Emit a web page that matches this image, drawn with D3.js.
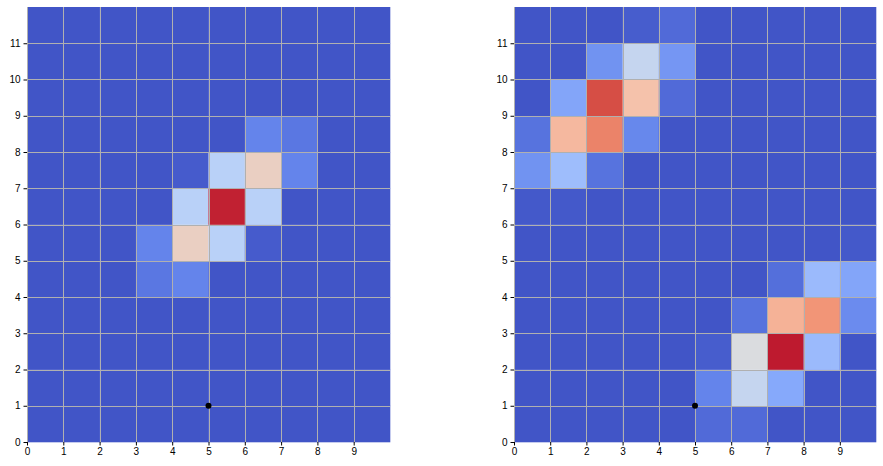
<!DOCTYPE html>
<html>
<head>
<meta charset="utf-8">
<script src="https://cdn.jsdelivr.net/npm/d3@7"></script>
<style>
  body { margin: 0; background: #fff; }
  svg { display: block; font-family: "DejaVu Sans", sans-serif; }
  .tick text { font-size: 10px; fill: #000; }
  .domain { display: none; }
</style>
</head>
<body>
<div id="chart"></div>
<script>
const width = 883;
const height = 466;

const nCols = 10;
const nRows = 12;
const xTicks = [0, 1, 2, 3, 4, 5, 6, 7, 8, 9];
const yTicks = [0, 1, 2, 3, 4, 5, 6, 7, 8, 9, 10, 11];
const baseValue = 0.02;
const marker = [5, 1];

// non-background cells: [col, row, value]
const leftCells = [
  [5, 6, 0.96],
  [4, 5, 0.57], [6, 7, 0.57],
  [4, 6, 0.38], [5, 7, 0.38], [6, 6, 0.38], [5, 5, 0.38],
  [3, 5, 0.13], [4, 4, 0.13], [6, 8, 0.13], [7, 7, 0.13],
  [3, 4, 0.10], [7, 8, 0.10],
  [4, 7, 0.035], [6, 5, 0.035]
];

const rightCells = [
  [3, 11, 0.04], [4, 11, 0.07],
  [2, 10, 0.17], [3, 10, 0.42], [4, 10, 0.18],
  [1, 9, 0.22], [2, 9, 0.90], [3, 9, 0.63], [4, 9, 0.07],
  [0, 8, 0.09], [1, 8, 0.66], [2, 8, 0.80], [3, 8, 0.14],
  [0, 7, 0.17], [1, 7, 0.30], [2, 7, 0.09],
  [0, 6, 0.03], [1, 6, 0.03],
  [9, 5, 0.03],
  [7, 4, 0.08], [8, 4, 0.29], [9, 4, 0.22],
  [6, 3, 0.09], [7, 3, 0.68], [8, 3, 0.76], [9, 3, 0.15],
  [5, 2, 0.04], [6, 2, 0.49], [7, 2, 0.97], [8, 2, 0.29],
  [5, 1, 0.13], [6, 1, 0.42], [7, 1, 0.23],
  [5, 0, 0.07], [6, 0, 0.07]
];

// matplotlib coolwarm
const coolwarmStops = ["#3b4cc0", "#6282ea", "#8db0fe", "#b8d0f9", "#dddddd",
  "#f5c4ad", "#f49a7b", "#de604d", "#b40426"];
const color = d3.scaleLinear()
  .domain(d3.range(coolwarmStops.length).map(i => i / (coolwarmStops.length - 1)))
  .range(coolwarmStops)
  .interpolate(d3.interpolateRgb);

const panels = [
  { cells: leftCells, left: 27, right: 390 },
  { cells: rightCells, left: 514, right: 876 }
];
const plotTop = 7;
const plotBottom = 442;

const svg = d3.select("#chart")
  .append("svg")
  .attr("width", width)
  .attr("height", height);

function fullGrid(cells) {
  const lookup = new Map(cells.map(d => [d[0] + "," + d[1], d[2]]));
  const grid = [];
  for (let r = 0; r < nRows; r++) {
    for (let c = 0; c < nCols; c++) {
      const v = lookup.get(c + "," + r);
      grid.push({ col: c, row: r, value: v === undefined ? baseValue : v });
    }
  }
  return grid;
}

panels.forEach(p => {
  const x = d3.scaleLinear().domain([0, nCols]).range([p.left, p.right]);
  const y = d3.scaleLinear().domain([0, nRows]).range([plotBottom, plotTop]);
  const g = svg.append("g");

  g.selectAll("rect")
    .data(fullGrid(p.cells))
    .join("rect")
    .attr("x", d => x(d.col))
    .attr("y", d => y(d.row + 1))
    .attr("width", d => x(d.col + 1) - x(d.col) + 0.3)
    .attr("height", d => y(d.row) - y(d.row + 1) + 0.3)
    .attr("fill", d => color(d.value));

  g.selectAll(".vgrid")
    .data(xTicks)
    .join("line")
    .attr("class", "vgrid")
    .attr("x1", d => Math.round(x(d)) + 0.5)
    .attr("x2", d => Math.round(x(d)) + 0.5)
    .attr("y1", plotTop)
    .attr("y2", plotBottom)
    .attr("stroke", "#b0b0b0")
    .attr("stroke-width", 1);

  g.selectAll(".hgrid")
    .data(yTicks.slice(1))
    .join("line")
    .attr("class", "hgrid")
    .attr("x1", p.left)
    .attr("x2", p.right)
    .attr("y1", d => Math.round(y(d)) + 0.5)
    .attr("y2", d => Math.round(y(d)) + 0.5)
    .attr("stroke", "#b0b0b0")
    .attr("stroke-width", 1);

  g.append("circle")
    .attr("cx", x(marker[0]))
    .attr("cy", y(marker[1]))
    .attr("r", 3)
    .attr("fill", "#000");

  g.append("g")
    .attr("transform", `translate(0, ${plotBottom})`)
    .call(d3.axisBottom(x).tickValues(xTicks).tickSize(3.5).tickPadding(2).tickFormat(d3.format("d")));

  g.append("g")
    .attr("transform", `translate(${p.left}, 0)`)
    .call(d3.axisLeft(y).tickValues(yTicks).tickSize(3.5).tickPadding(3).tickFormat(d3.format("d")));
});
</script>
</body>
</html>
